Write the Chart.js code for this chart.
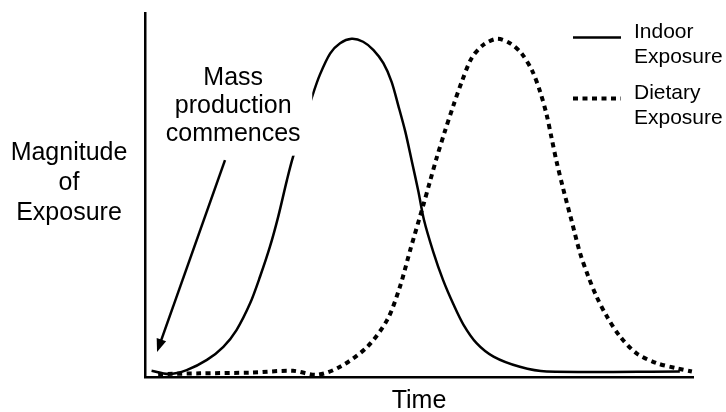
<!DOCTYPE html>
<html>
<head>
<meta charset="utf-8">
<script src="https://cdn.jsdelivr.net/npm/chart.js@4/dist/chart.umd.min.js"></script>
<style>
  html, body { margin: 0; padding: 0; background: #fff; }
  canvas { display: block; }
</style>
</head>
<body>
<canvas id="exposure" width="726" height="412"></canvas>
<script>
// time runs 0..100, magnitude 0..100 (arbitrary units)
const indoorTime = [1.2, 4.3, 7.6, 11.3, 14.3, 16.7, 19.2, 21.0, 22.8, 24.3, 25.9, 27.0, 30.6, 31.9, 33.8, 35.6, 37.7, 39.8, 41.7, 43.5, 45.0, 46.2, 47.5, 48.7, 49.9, 50.9, 52.6, 54.4, 56.3, 58.1, 60.5, 63.6, 68.4, 73.3, 97.6];
const indoorValues = [1.7, 0.8, 1.9, 4.7, 8.3, 12.9, 20.3, 27.6, 35.8, 44.0, 54.1, 60.4, 77.5, 83.0, 88.9, 91.7, 92.9, 92.1, 89.8, 86.2, 81.1, 74.7, 67.4, 59.2, 50.9, 43.2, 34.4, 26.6, 19.9, 14.4, 9.3, 5.6, 2.8, 1.5, 1.5];

const dietaryTime = [2.4, 10.0, 19.2, 27.0, 31.4, 35.6, 40.5, 44.2, 46.5, 48.4, 50.8, 52.0, 53.2, 54.7, 56.3, 57.8, 59.6, 61.7, 64.2, 66.6, 68.7, 70.6, 72.1, 73.3, 74.2, 75.1, 76.3, 77.9, 79.4, 80.9, 82.4, 84.3, 86.7, 89.7, 93.4, 97.0, 99.8];
const dietaryValues = [0.8, 1.0, 1.2, 1.7, 0.6, 2.8, 8.2, 15.7, 24.7, 34.9, 47.3, 53.7, 60.1, 67.4, 74.7, 81.1, 87.6, 91.2, 92.9, 91.7, 88.9, 84.3, 78.4, 72.0, 65.6, 59.2, 51.8, 42.6, 34.0, 27.6, 22.1, 16.6, 11.1, 6.5, 3.8, 2.4, 1.5];

const seriesLabels = [['Indoor', 'Exposure'], ['Dietary', 'Exposure']];
const yTitle = ['Magnitude', 'of', 'Exposure'];
const xTitle = 'Time';
const noteText = ['Mass', 'production', 'commences'];

const FONT = '"Liberation Sans", Arial, Helvetica, sans-serif';

function toPoints(xs, ys) {
    return xs.map((x, i) => ({ x: x, y: ys[i] }));
}

// text, legend and the arrow are painted on top of the curves
const decorations = {
    id: 'decorations',
    afterDatasetsDraw(chart) {
        const { ctx, chartArea, scales } = chart;
        const xs = scales.x, ys = scales.y;
        ctx.save();
        ctx.fillStyle = '#000';

        // note box: white fill hides the curve behind the text
        const noteX = xs.getPixelForValue(16.1);
        const noteTop = ys.getPixelForValue(88);
        ctx.fillStyle = '#fff';
        ctx.fillRect(noteX - 78, noteTop, 157, 99);
        ctx.fillStyle = '#000';
        ctx.font = '25px ' + FONT;
        ctx.textAlign = 'center';
        ctx.textBaseline = 'alphabetic';
        noteText.forEach((line, i) => ctx.fillText(line, noteX, noteTop + 28 + i * 28));

        // arrow pointing at the start of the curve
        const ax0 = xs.getPixelForValue(14.6), ay0 = ys.getPixelForValue(59.6);
        const ax1 = xs.getPixelForValue(2.2), ay1 = ys.getPixelForValue(6.9);
        const ang = Math.atan2(ay1 - ay0, ax1 - ax0);
        const headLen = 13, headW = 5;
        ctx.strokeStyle = '#000';
        ctx.lineWidth = 2.5;
        ctx.beginPath();
        ctx.moveTo(ax0, ay0);
        ctx.lineTo(ax1 - Math.cos(ang) * headLen * 0.8, ay1 - Math.sin(ang) * headLen * 0.8);
        ctx.stroke();
        ctx.beginPath();
        ctx.moveTo(ax1, ay1);
        ctx.lineTo(ax1 - Math.cos(ang) * headLen - Math.sin(ang) * headW, ay1 - Math.sin(ang) * headLen + Math.cos(ang) * headW);
        ctx.lineTo(ax1 - Math.cos(ang) * headLen + Math.sin(ang) * headW, ay1 - Math.sin(ang) * headLen - Math.cos(ang) * headW);
        ctx.closePath();
        ctx.fill();

        // y title, horizontal, three lines
        const midY = (chartArea.top + chartArea.bottom) / 2;
        yTitle.forEach((line, i) => ctx.fillText(line, chartArea.left - 76, midY - 35 + i * 30));

        // x title
        ctx.fillText(xTitle, (chartArea.left + chartArea.right) / 2, chartArea.bottom + 31);

        // legend
        ctx.textAlign = 'left';
        ctx.font = '21px ' + FONT;
        chart.data.datasets.forEach((ds, i) => {
            const top = chartArea.top + 25 + i * 61;
            ctx.save();
            ctx.strokeStyle = ds.borderColor;
            ctx.lineWidth = ds.borderWidth;
            ctx.lineCap = 'butt';
            ctx.setLineDash(ds.borderDash || []);
            ctx.beginPath();
            ctx.moveTo(chartArea.right - 120, top - 0.5);
            ctx.lineTo(chartArea.right - 72, top - 0.5);
            ctx.stroke();
            ctx.restore();
            seriesLabels[i].forEach((line, j) => ctx.fillText(line, chartArea.right - 59, top + j * 25));
        });
        ctx.restore();
    }
};

new Chart(document.getElementById('exposure'), {
    type: 'line',
    data: {
        datasets: [{
            label: seriesLabels[0].join(' '),
            data: toPoints(indoorTime, indoorValues),
            borderColor: '#000',
            borderWidth: 2.5,
            pointRadius: 0,
            tension: 0.3,
            fill: false,
            clip: false
        }, {
            label: seriesLabels[1].join(' '),
            data: toPoints(dietaryTime, dietaryValues),
            borderColor: '#000',
            borderWidth: 4,
            borderDash: [5, 4.5],
            borderCapStyle: 'butt',
            pointRadius: 0,
            tension: 0.3,
            fill: false,
            clip: false
        }]
    },
    options: {
        responsive: false,
        devicePixelRatio: 1,
        animation: false,
        layout: { padding: { left: 145, right: 33, top: 13, bottom: 35 } },
        plugins: {
            legend: { display: false },
            tooltip: { enabled: false }
        },
        scales: {
            x: {
                type: 'linear',
                min: 0,
                max: 100,
                grid: { display: false, drawTicks: false },
                ticks: { display: false },
                border: { display: true, color: '#000', width: 2.5 }
            },
            y: {
                min: 0,
                max: 100,
                grid: { display: false, drawTicks: false },
                ticks: { display: false },
                border: { display: true, color: '#000', width: 2.5 }
            }
        }
    },
    plugins: [decorations]
});
</script>
</body>
</html>
